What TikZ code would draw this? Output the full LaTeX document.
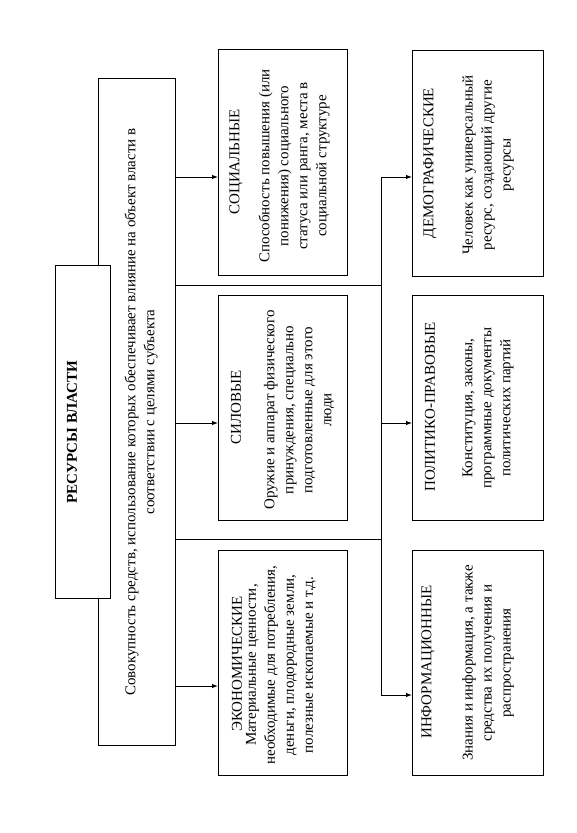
\documentclass[tikz,border=0pt]{standalone}
\usepackage{fontspec}
\setmainfont{Liberation Serif}
\usetikzlibrary{arrows.meta}
\begin{document}
\begin{tikzpicture}[x=1pt,y=-1pt,
  box/.style={draw, line width=1pt, fill=white, inner sep=0pt, outer sep=0pt},
  rot/.style={rotate=90, inner sep=0pt, align=center, font=\fontsize{15}{19}\selectfont},
  ttl/.style={rotate=90, inner sep=0pt, font=\fontsize{15}{19}\selectfont\bfseries},
  ln/.style={line width=1pt},
  arr/.style={line width=1pt, -{Latex[length=6pt,width=4.5pt]}}]
\useasboundingbox (0,0) rectangle (576,833);
% boxes
\node[box, minimum width=77pt, minimum height=667pt] (main) at (136.5,411.5) {};
\node[box, minimum width=55pt, minimum height=333pt] (title) at (82.5,431.5) {};
\node[box, minimum width=129pt, minimum height=226pt] (soc) at (282.5,162) {};
\node[box, minimum width=129pt, minimum height=225pt] (sil) at (282.5,407.5) {};
\node[box, minimum width=129pt, minimum height=225pt] (eco) at (282.5,662.5) {};
\node[box, minimum width=131pt, minimum height=226pt] (dem) at (477.5,163) {};
\node[box, minimum width=131pt, minimum height=225pt] (pol) at (477.5,407.5) {};
\node[box, minimum width=131pt, minimum height=225pt] (inf) at (477.5,662.5) {};
% texts
\node[ttl] (ttltext) at (72,432) {РЕСУРСЫ ВЛАСТИ};
\node[rot] (maintext) at (141,412) {Совокупность средств, использование которых обеспечивает влияние на объект власти в\\ соответствии с целями субъекта};
\node[rot] (soch) at (236,162) {СОЦИАЛЬНЫЕ};
\node[rot] (socb) at (294,166) {Способность повышения (или\\ понижения) социального\\ статуса или ранга, места в\\ социальной структуре};
\node[rot] (silh) at (236,407) {СИЛОВЫЕ};
\node[rot] (silb) at (299,410) {Оружие и аппарат физического\\ принуждения, специально\\ подготовленные для этого\\ люди};
\node[rot] (ecoh) at (237,664) {ЭКОНОМИЧЕСКИЕ};
\node[rot] (ecob) at (281,665) {Материальные ценности,\\ необходимые для потребления,\\ деньги, плодородные земли,\\ полезные ископаемые и т.д.};
\node[rot] (demh) at (430,163) {ДЕМОГРАФИЧЕСКИЕ};
\node[rot] (demb) at (488,165) {Человек как универсальный\\ ресурс, создающий другие\\ ресурсы};
\node[rot] (polh) at (430,407) {ПОЛИТИКО-ПРАВОВЫЕ};
\node[rot] (polb) at (488,408) {Конституция, законы,\\ программные документы\\ политических партий};
\node[rot] (infh) at (428,662) {ИНФОРМАЦИОННЫЕ};
\node[rot] (infb) at (488,663) {Знания и информация, а также\\ средства их получения и\\ распространения};
% junction coordinates
\coordinate (a1) at (381,177);
\coordinate (a2) at (381,423);
\coordinate (a3) at (381,695);
\coordinate (j1) at (381,285);
\coordinate (j2) at (381,539);
\coordinate (e3) at (200,686);
% connectors
\draw[arr] (main.east |- a1) -- (soc.west |- a1);
\draw[arr] (main.east |- a2) -- (sil.west |- a2);
\draw[arr] (main.east |- e3) -- (eco.west |- e3);
\draw[ln] (main.east |- j1) -- (j1);
\draw[ln] (main.east |- j2) -- (j2);
\draw[ln] (a1) -- (a3);
\draw[arr] (a1) -- (dem.west |- a1);
\draw[arr] (a2) -- (pol.west |- a2);
\draw[arr] (a3) -- (inf.west |- a3);
\end{tikzpicture}
\end{document}
